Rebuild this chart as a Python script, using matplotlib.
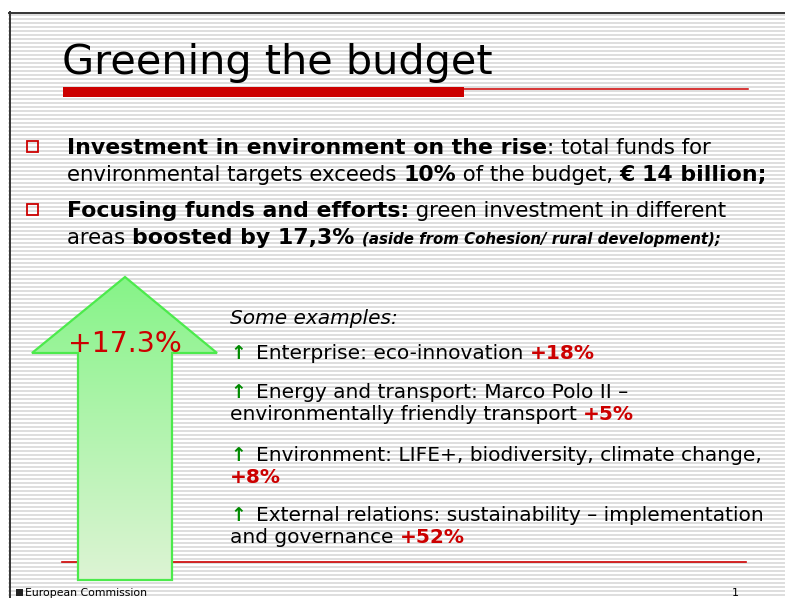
#!/usr/bin/env python3
"""Slide: Greening the budget."""

import numpy as np
import matplotlib
matplotlib.use("Agg")
import matplotlib.pyplot as plt
from matplotlib.patches import Polygon, Rectangle

W, H = 785, 598

TITLE = "Greening the budget"
ARROW_LABEL = "+17.3%"

# bullet lines: list of (text, style) runs; style b=bold, r=regular, bi=small bold italic
BULLET_LINES = [
    [("Investment in environment on the rise", "b"), (": total funds for", "r")],
    [("environmental targets exceeds ", "r"), ("10%", "b"), (" of the budget, ", "r"), ("\u20ac 14 billion;", "b")],
    [("Focusing funds and efforts:", "b"), (" green investment in different", "r")],
    [("areas ", "r"), ("boosted by 17,3% ", "b"), ("(aside from Cohesion/ rural development);", "bi")],
]

EXAMPLES_HEADER = "Some examples:"
# first line, continuation line (None if the change sits on the first line)
EXAMPLE_FIRST = [
    "Enterprise: eco-innovation ",
    "Energy and transport: Marco Polo II \u2013",
    "Environment: LIFE+, biodiversity, climate change,",
    "External relations: sustainability \u2013 implementation",
]
EXAMPLE_SECOND = [None, "environmentally friendly transport ", "", "and governance "]
EXAMPLE_CHANGES = ["+18%", "+5%", "+8%", "+52%"]

RED = "#cc0000"
GREEN = "#008a00"

fig = plt.figure(figsize=(W / 100, H / 100), dpi=100)
ax = fig.add_axes([0, 0, 1, 1])
ax.set_xlim(0, W)
ax.set_ylim(H, 0)
ax.axis("off")

# striped background inside the slide frame
for y in np.arange(15, H, 4):
    ax.plot([9, W], [y, y], color="#d8d8d8", lw=1.2, zorder=0)
ax.plot([9, W], [12.5, 12.5], color="#333333", lw=1.4, zorder=1)
ax.plot([9.5, 9.5], [12, H], color="#333333", lw=1.4, zorder=1)

fig.canvas.draw()
renderer = fig.canvas.get_renderer()


def text_width(s, **kw):
    t = ax.text(0, 0, s + "|", **kw)
    t2 = ax.text(0, 0, "|", **kw)
    w = t.get_window_extent(renderer).width - t2.get_window_extent(renderer).width
    t.remove()
    t2.remove()
    return w


def draw_runs(x, y, runs):
    for s, kw in runs:
        ax.text(x, y, s, va="baseline", ha="left", **kw)
        x += text_width(s, **kw)
    return x


# title and rule
ax.text(62, 74, TITLE, fontsize=29.8, va="baseline", color="black")
ax.add_patch(Rectangle((63, 87), 401, 9.5, color=RED, lw=0, zorder=2))
ax.plot([464, 748], [88.5, 88.5], color=RED, lw=1.1, zorder=2)

# bullets
styles = {
    "b": dict(fontsize=15.8, fontweight="bold"),
    "r": dict(fontsize=15.3),
    "bi": dict(fontsize=10.8, fontweight="bold", style="italic"),
}
line_y = [154, 181, 217, 244]
for i, (runs, y) in enumerate(zip(BULLET_LINES, line_y)):
    draw_runs(67, y, [(s, dict(color="black", **styles[st])) for s, st in runs])
    if i in (0, 2):
        ax.add_patch(Rectangle((27, y - 13), 10.5, 10.5, fill=False, ec=RED, lw=1.3, zorder=3))

# big arrow with gradient
arrow_pts = [(125, 277), (217, 353), (172, 353), (172, 580),
             (78, 580), (78, 353), (32, 353)]
arrow = Polygon(arrow_pts, closed=True, fc="none", ec="#4cea4c", lw=1.6, zorder=5)
ax.add_patch(arrow)
grad = np.linspace(0, 1, 256)[:, None]
top = np.array([0x86, 0xf4, 0x88]) / 255
bot = np.array([0xdd, 0xf3, 0xd4]) / 255
img = top[None, None, :] * (1 - grad[..., None]) + bot[None, None, :] * grad[..., None]
im = ax.imshow(np.repeat(img, 2, axis=1), extent=(32, 218, 580, 277), origin="upper",
               aspect="auto", zorder=4)
im.set_clip_path(arrow)
ax.set_xlim(0, W)
ax.set_ylim(H, 0)
ax.text(125, 352, ARROW_LABEL, fontsize=20.4, color=RED, ha="center", va="baseline", zorder=6)

# examples
ex_size = 14.5
base = dict(fontsize=ex_size, color="black")
red = dict(fontsize=ex_size, color=RED, fontweight="bold")
ax.text(230, 324, EXAMPLES_HEADER, fontsize=ex_size, style="italic", va="baseline")
ex_y = [359, 398, 461, 521]
for first, second, change, y in zip(EXAMPLE_FIRST, EXAMPLE_SECOND, EXAMPLE_CHANGES, ex_y):
    ax.text(230, y, "\u2191", fontsize=ex_size - 1, fontweight="bold", color=GREEN, va="baseline")
    if second is None:
        draw_runs(256, y, [(first, base), (change, red)])
    else:
        draw_runs(256, y, [(first, base)])
        draw_runs(230, y + 22, [(second, base), (change, red)])

# bottom rule, footer
ax.plot([62, 746], [562, 562], color=RED, lw=1.2, zorder=2)
ax.add_patch(Rectangle((16, 589), 7, 7, color="#222222", lw=0, zorder=3))
ax.text(25, 596, "European Commission", fontsize=7.8, va="baseline")
ax.text(732, 596, "1", fontsize=8, va="baseline")

fig.savefig("out.png", dpi=100)
